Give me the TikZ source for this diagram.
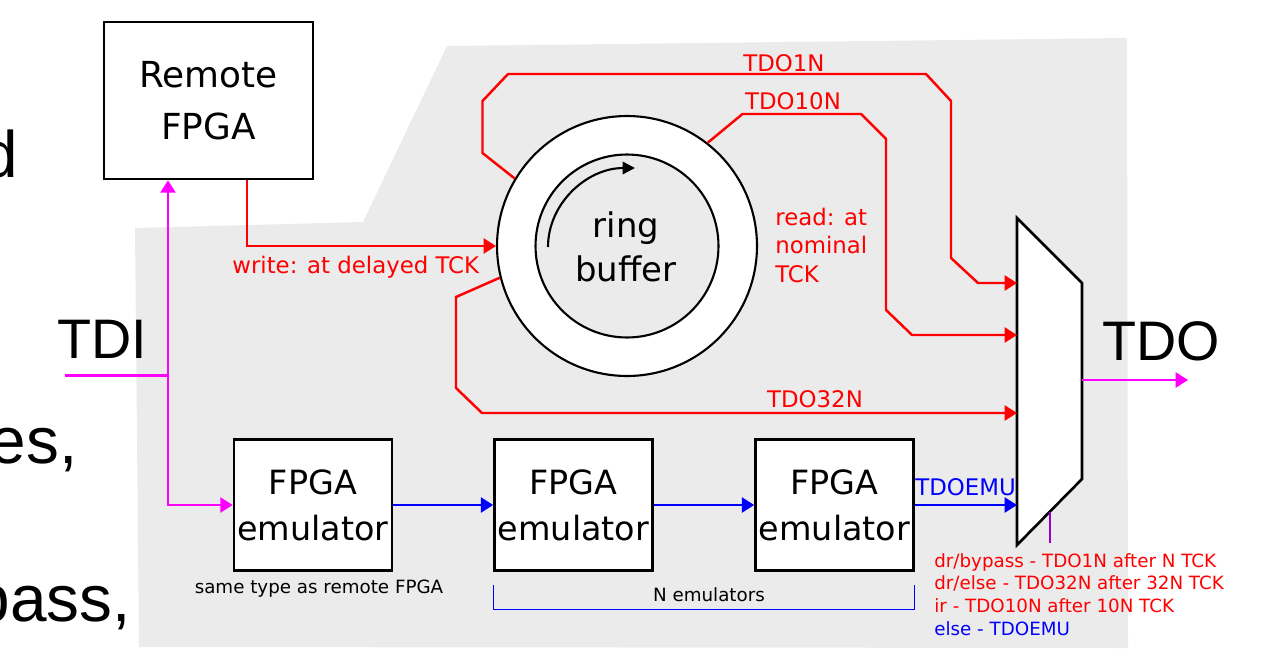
\documentclass[tikz,border=0pt]{standalone}
\usepackage{fontspec}
\setmainfont{DejaVu Sans}
\newfontfamily\slidefont{Liberation Sans}
\usetikzlibrary{arrows.meta,calc}
\definecolor{bggray}{HTML}{EBEBEB}
\definecolor{sigred}{HTML}{FF0000}
\definecolor{sigblue}{HTML}{0000FF}
\definecolor{sigmag}{HTML}{FF00FF}
\definecolor{selpurple}{HTML}{9900CC}
\begin{document}
\begin{tikzpicture}[x=0.02cm,y=-0.02cm,
  box/.style={draw,line width=1.5pt,fill=white,inner sep=0pt,align=center},
  sig/.style={line width=1.4pt,-{Triangle[length=7pt,width=8.5pt]}},
  wire/.style={line width=1.4pt},
  lbl/.style={inner sep=0pt,font=\fontsize{13}{16.2}\selectfont},
  small/.style={inner sep=0pt,font=\fontsize{10.4}{12.9}\selectfont},
  big/.style={inner sep=0pt,font=\slidefont\fontsize{31.7}{38}\selectfont},
  slide/.style={inner sep=0pt,font=\slidefont\fontsize{37.4}{45}\selectfont},
  ringline/.style={draw,line width=1.2pt,circle,inner sep=0pt}
]
\useasboundingbox (0,0) rectangle (1273,649);
\clip (0,0) rectangle (1273,649);
% slide text fragments
\node[slide,anchor=base east] (s1) at (18,177) {d};
\node[slide,anchor=base east] (s2) at (78,463) {es,};
\node[slide,anchor=base east] (s3) at (131,621) {bypass,};
% gray background
\fill[bggray] (135,228) -- (363,222) -- (447,46) -- (1127,38) -- (1128,648) -- (139,647) -- cycle;
% boxes
\node[box,minimum width=4.18cm,minimum height=3.14cm,font=\fontsize{20.4}{29.5}\selectfont] (remote) at (208.5,100.5) {Remote\\FPGA};
\node[box,minimum width=3.16cm,minimum height=2.62cm,font=\fontsize{19}{26}\selectfont] (e1) at (313,505) {FPGA\\emulator};
\node[box,minimum width=3.16cm,minimum height=2.62cm,font=\fontsize{19}{26}\selectfont] (e2) at (573.5,505) {FPGA\\emulator};
\node[box,minimum width=3.16cm,minimum height=2.62cm,font=\fontsize{19}{26}\selectfont] (e3) at (834.5,505) {FPGA\\emulator};
% ring buffer
\node[ringline,fill=white,minimum size=5.2cm] (ring) at (627,246) {};
\node[ringline,fill=bggray,minimum size=3.66cm] (core) at (ring.center) {};
\node[inner sep=0pt,align=center,font=\fontsize{19.3}{25}\selectfont] (ringtxt) at (626,247) {ring\\buffer};
\draw[line width=1.2pt,-{Triangle[length=7pt,width=7pt]}] (548,247) arc[start angle=180,end angle=270,x radius=87,y radius=79];
% multiplexer
\draw[line width=1.5pt,fill=white] (1017,218) -- (1082,283) -- (1082,479) -- (1017,545) -- cycle;
\coordinate (mi1) at (1017,283);
\coordinate (mi2) at (1017,335);
\coordinate (mi3) at (1017,413);
\coordinate (mi4) at (1017,505);
\coordinate (mo) at (1082,380);
\coordinate (tdoend) at (1188,380);
\coordinate (msel) at (1050,511.5);
\coordinate (selend) at (1050,543);
% red signals
\draw[sig,sigred] ($(remote.south)+(38.5,0)$) |- (ring.west);
\draw[sig,sigred] (ring.149) -- (482.5,153) -- (482.5,101) -- (508,74) -- (926,74) -- (951,101) -- (951,258) -- (978,283) -- (mi1);
\draw[sig,sigred] (ring.52) -- (742.5,114) -- (861,114) -- (886,139) -- (886,310) -- (912,335) -- (mi2);
\draw[sig,sigred] (ring.194) -- (456,297) -- (456,388) -- (482,413) -- (mi3);
% blue signals
\draw[sig,sigblue] (e1.east) -- (e2.west);
\draw[sig,sigblue] (e2.east) -- (e3.west);
\draw[sig,sigblue] (e3.east) -- (mi4);
% magenta signals
\coordinate (tdiin) at (65,375.5);
\coordinate (split) at (168,375.5);
\draw[wire,sigmag] (tdiin) -- (split);
\draw[sig,sigmag] (split) -- (split |- remote.south);
\draw[sig,sigmag] (split) |- (e1.west);
\draw[sig,sigmag] (mo) -- (tdoend);
\draw[line width=1.4pt,selpurple] (msel) -- (selend);
% labels
\node[lbl,text=sigred,anchor=base] (l1) at (784,71) {TDO1N};
\node[lbl,text=sigred,anchor=base] (l10) at (793,109) {TDO10N};
\node[lbl,text=sigred,anchor=base] (l32) at (815,407) {TDO32N};
\node[lbl,text=sigblue,anchor=base west] (lemu) at (915,495) {TDOEMU};
\node[lbl,text=sigred,anchor=base west] (lw) at (232,273) {write: at delayed TCK};
\node[lbl,text=sigred,anchor=base west,align=left] (lr) at (775,282) {read: at\\nominal\\TCK};
\node[small,anchor=base west,align=left] (selt) at (934,635) {\textcolor{sigred}{dr/bypass - TDO1N after N TCK}\\\textcolor{sigred}{dr/else - TDO32N after 32N TCK}\\\textcolor{sigred}{ir - TDO10N after 10N TCK}\\\textcolor{sigblue}{else - TDOEMU}};
\node[small,anchor=base] (same) at (319,593) {same type as remote FPGA};
\node[small,anchor=base] (nemu) at (709,601) {N emulators};
\draw[sigblue,line width=0.6pt] ($(e2.south west)+(0,13)$) -- ($(e2.south west)+(0,38)$) -- ($(e3.south east)+(0,38)$) -- ($(e3.south east)+(0,13)$);
\node[big,anchor=base west] (tdi) at (57,358) {TDI};
\node[big,anchor=base west] (tdo) at (1102,360) {TDO};
\end{tikzpicture}
\end{document}
